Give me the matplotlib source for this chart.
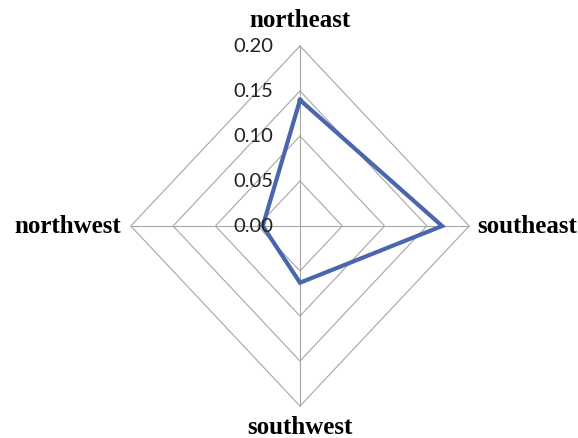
import matplotlib.pyplot as plt
import numpy as np

directions = ["northeast", "southeast", "southwest", "northwest"]
values = [0.14, 0.168, 0.063, 0.044]
ticks = [0.00, 0.05, 0.10, 0.15, 0.20]

# axis directions: up, right, down, left
angles = np.array([np.pi / 2, 0, -np.pi / 2, np.pi])
ux, uy = np.cos(angles), np.sin(angles)

fig = plt.figure(figsize=(5.78, 4.39), dpi=100)
W, H = 578, 439
cx, cy = 300, 439 - 227
xr, yr = 0.30, 0.22
pw, ph = xr / 0.05 * 42.3, yr / 0.05 * 45
ax = fig.add_axes([(cx - pw) / W, (cy - ph) / H, 2 * pw / W, 2 * ph / H])
ax.set_xlim(-xr, xr)
ax.set_ylim(-yr, yr)
ax.axis("off")

grid = "#a6a6a6"
for t in ticks[1:]:
    xs = np.append(ux * t, ux[0] * t)
    ys = np.append(uy * t, uy[0] * t)
    ax.plot(xs, ys, color=grid, lw=0.8, zorder=1)
for i in range(4):
    ax.plot([0, ux[i] * ticks[-1]], [0, uy[i] * ticks[-1]], color=grid, lw=0.8, zorder=1)

vx = np.append(ux * values, ux[0] * values[0])
vy = np.append(uy * values, uy[0] * values[0])
ax.plot(vx, vy, color="#4a66ac", lw=3.0, zorder=3, solid_joinstyle="miter")

for t in ticks:
    ax.text(-0.032, t, f"{t:.2f}", ha="right", va="center", fontsize=14.5,
            family="Lato", color="#222222", zorder=4)

lab = dict(fontsize=18, fontweight="bold", family="Liberation Serif", color="black")
ax.text(0, 0.229, directions[0], ha="center", va="center", **lab)
ax.text(0.210, 0, directions[1], ha="left", va="center", **lab)
ax.text(0, -0.223, directions[2], ha="center", va="center", **lab)
ax.text(-0.211, 0, directions[3], ha="right", va="center", **lab)

fig.savefig("out.png", dpi=100)
